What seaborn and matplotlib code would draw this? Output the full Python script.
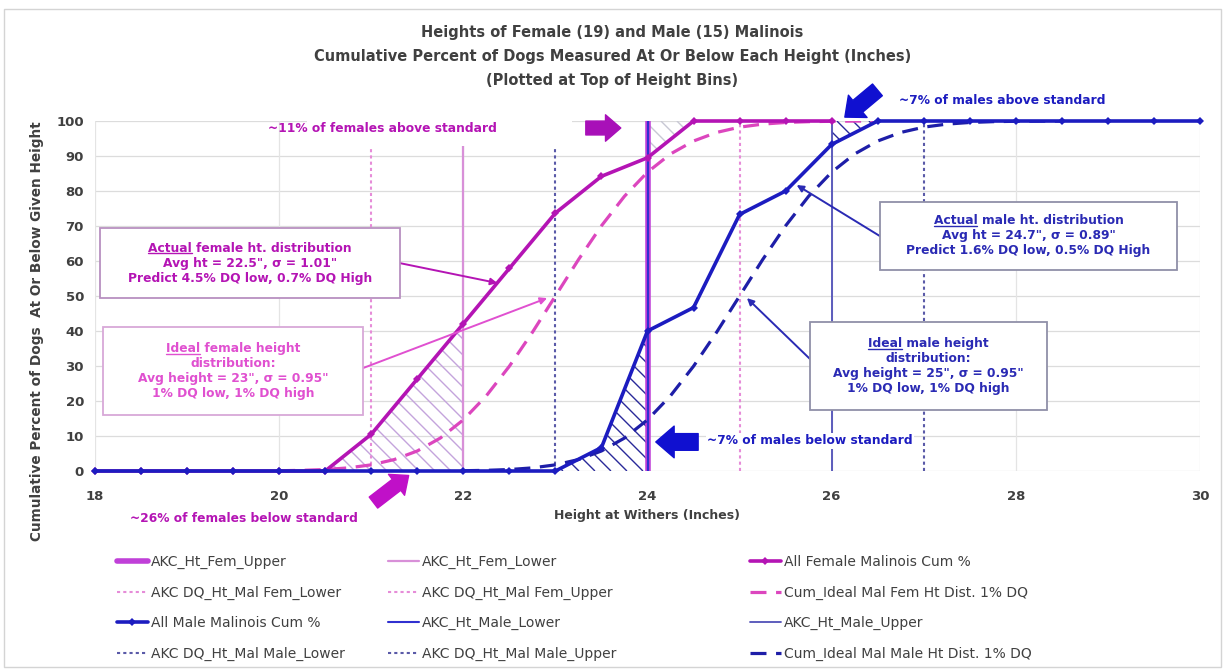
import matplotlib
matplotlib.use("Agg")
import matplotlib.pyplot as plt
from matplotlib.lines import Line2D
from matplotlib.patches import Rectangle
from matplotlib.collections import LineCollection
from matplotlib.path import Path
import seaborn as sns

# ---- data -------------------------------------------------------------
heights = [18.0, 18.5, 19.0, 19.5, 20.0, 20.5, 21.0, 21.5, 22.0, 22.5, 23.0,
           23.5, 24.0, 24.5, 25.0, 25.5, 26.0, 26.5, 27.0, 27.5, 28.0, 28.5,
           29.0, 29.5, 30.0]

# cumulative % of the 19 females at or below each height (18 .. 26 in)
female_cum = [0, 0, 0, 0, 0, 0, 10.5, 26.3, 42.1, 57.9, 73.7, 84.2, 89.5,
              100, 100, 100, 100]
# cumulative % of the 15 males at or below each height (18 .. 30 in)
male_cum = [0, 0, 0, 0, 0, 0, 0, 0, 0, 0, 0, 6.7, 40.0, 46.7, 73.3, 80.0,
            93.3, 100, 100, 100, 100, 100, 100, 100, 100]

# ideal distributions (cumulative %), sampled every quarter inch
ideal_fem_x = [20.0, 20.25, 20.5, 20.75, 21.0, 21.25, 21.5, 21.75, 22.0, 22.25,
               22.5, 22.75, 23.0, 23.25, 23.5, 23.75, 24.0, 24.25, 24.5, 24.75,
               25.0, 25.25, 25.5, 25.75, 26.0, 26.25, 26.5]
ideal_fem_pct = [0.08, 0.19, 0.42, 0.89, 1.76, 3.27, 5.72, 9.41, 14.62, 21.50,
                 29.94, 39.62, 50.0, 60.38, 70.06, 78.50, 85.38, 90.59, 94.28,
                 96.73, 98.24, 99.11, 99.58, 99.81, 99.92, 99.97, 99.99]
ideal_male_x = [22.0, 22.25, 22.5, 22.75, 23.0, 23.25, 23.5, 23.75, 24.0, 24.25,
                24.5, 24.75, 25.0, 25.25, 25.5, 25.75, 26.0, 26.25, 26.5, 26.75,
                27.0, 27.25, 27.5, 27.75, 28.0, 28.25, 28.5]
ideal_male_pct = [0.08, 0.19, 0.42, 0.89, 1.76, 3.27, 5.72, 9.41, 14.62, 21.50,
                  29.94, 39.62, 50.0, 60.38, 70.06, 78.50, 85.38, 90.59, 94.28,
                  96.73, 98.24, 99.11, 99.58, 99.81, 99.92, 99.97, 99.99]

# AKC standard limits (inches)
fem_lower, fem_upper = 22, 24
fem_dq_lower, fem_dq_upper = 21, 25
male_lower, male_upper = 24, 26
male_dq_lower, male_dq_upper = 23, 27

x_ticks = [18, 20, 22, 24, 26, 28, 30]
y_ticks = [0, 10, 20, 30, 40, 50, 60, 70, 80, 90, 100]

# ---- colours ----------------------------------------------------------
C_FEM = "#b414b4"
C_FEM_DASH = "#dc46be"
C_MALE = "#1c1cc0"
C_MALE_DASH = "#1e1ea8"
C_TXT = "#404040"

sns.set_theme(style="white")
plt.rcParams["font.family"] = ["DejaVu Sans"]

fig = plt.figure(figsize=(12.25, 6.7), dpi=100)
AX_W_PX, AX_H_PX = 1105, 350
ax = fig.add_axes([95 / 1225, 1 - 471 / 670, AX_W_PX / 1225, AX_H_PX / 670])
ax.set_xlim(18, 30)
ax.set_ylim(0, 100)

# grid
for yv in y_ticks:
    ax.axhline(yv, color="#dcdcdc", lw=0.9, zorder=0)
for xv in x_ticks:
    ax.axvline(xv, color="#e4e4e4", lw=0.9, zorder=0)

# ---- standard limit lines ---------------------------------------------
h = {}
h["fem_up"] = ax.axvline(fem_upper, color="#c040d8", lw=4.0, zorder=2)
h["fem_lo"] = ax.axvline(fem_lower, color="#d890d8", lw=1.6, zorder=2)
h["fem_dq_lo"] = ax.axvline(fem_dq_lower, color="#e68cd8", lw=1.5,
                            ls=(0, (1.5, 1.5)), zorder=2)
h["fem_dq_up"] = ax.axvline(fem_dq_upper, color="#e68cd8", lw=1.5,
                            ls=(0, (1.5, 1.5)), zorder=2)
h["male_lo"] = ax.axvline(male_lower, color="#3030d0", lw=1.5, zorder=3)
h["male_up"] = ax.axvline(male_upper, color="#5050b8", lw=1.3, zorder=2)
h["male_dq_lo"] = ax.axvline(male_dq_lower, color="#5a5aa8", lw=1.5,
                             ls=(0, (1.5, 1.5)), zorder=2)
h["male_dq_up"] = ax.axvline(male_dq_upper, color="#5a5aa8", lw=1.5,
                             ls=(0, (1.5, 1.5)), zorder=2)


# ---- hatched regions outside the standard -----------------------------
def hatch_region(poly, color, step_px=16):
    """Fill a region with back-slanted 45-degree lines clipped to its outline."""
    px_per_in = AX_W_PX / 12
    px_per_pct = AX_H_PX / 100
    span = 100 * px_per_pct / px_per_in          # inches run while dropping 100 %
    step = step_px / px_per_in
    segs, x = [], 17.0 - span
    while x < 31:
        segs.append([(x, 100), (x + span, 0)])
        x += step
    lc = LineCollection(segs, colors=color, linewidths=1.0, zorder=1)
    ax.add_collection(lc)
    lc.set_clip_path(Path.make_compound_path(*poly.get_paths()), ax.transData)


fx = heights[:len(female_cum)]
regions = [
    (fx, female_cum, 0, [20.5 <= v <= fem_lower for v in fx], "#c4a4dc"),
    (fx, female_cum, 100, [fem_upper <= v <= 24.5 for v in fx], "#c8c8d4"),
    (heights, male_cum, 0, [male_dq_lower <= v <= male_lower for v in heights], "#2a2a9a"),
    (heights, male_cum, 100, [male_upper <= v <= 26.5 for v in heights], "#2a2a9a"),
]
for xs, ys, base, mask, col in regions:
    poly = ax.fill_between(xs, ys, base, where=mask, facecolor="none",
                           edgecolor="none", lw=0)
    hatch_region(poly, col)

# ---- distributions ----------------------------------------------------
sns.lineplot(x=ideal_fem_x, y=ideal_fem_pct, ax=ax, color=C_FEM_DASH, lw=2.3,
             linestyle=(0, (5, 3)), zorder=4)
h["ideal_fem"] = ax.lines[-1]
sns.lineplot(x=fx, y=female_cum, ax=ax, color=C_FEM, lw=2.6, marker="D",
             markersize=4, markeredgewidth=0, zorder=5, clip_on=False)
h["fem"] = ax.lines[-1]
sns.lineplot(x=ideal_male_x, y=ideal_male_pct, ax=ax, color=C_MALE_DASH, lw=2.3,
             linestyle=(0, (5, 3)), zorder=4)
h["ideal_male"] = ax.lines[-1]
sns.lineplot(x=heights, y=male_cum, ax=ax, color=C_MALE, lw=2.6, marker="D",
             markersize=4, markeredgewidth=0, zorder=6, clip_on=False)
h["male"] = ax.lines[-1]

# ---- axes styling -----------------------------------------------------
for s in ax.spines.values():
    s.set_visible(False)
ax.set_xticks(x_ticks)
ax.set_yticks(y_ticks)
ax.tick_params(length=0, labelsize=9.5, labelcolor=C_TXT, pad=14)
ax.tick_params(axis="y", pad=8)
for lab in ax.get_xticklabels() + ax.get_yticklabels():
    lab.set_fontweight("bold")
ax.set_xlabel("Height at Withers (Inches)", fontsize=9, fontweight="bold",
              color=C_TXT, labelpad=4)
ax.set_ylabel("Cumulative Percent of Dogs  At Or Below Given Height", fontsize=9.8,
              fontweight="bold", color=C_TXT)
ax.yaxis.set_label_coords(-0.046, 0.40)

# ---- title ------------------------------------------------------------
title_lines = ["Heights of Female (19) and Male (15) Malinois",
               "Cumulative Percent of Dogs Measured At Or Below Each Height (Inches)",
               "(Plotted at Top of Height Bins)"]
for txt, ypx in zip(title_lines, [33, 57, 80]):
    fig.text(0.5, 1 - ypx / 670, txt, ha="center", va="center", fontsize=10.5,
             fontweight="bold", color=C_TXT)

# ---- callouts ---------------------------------------------------------
# white text box behind the "above standard" note
ax.add_patch(Rectangle((20.3, 93.0), 2.88, 8.5, facecolor="white",
                       edgecolor="none", zorder=6.5, clip_on=False))
ax.text(21.12, 98, "~11% of females above standard", ha="center", va="center",
        fontsize=8.8, fontweight="bold", color=C_FEM, zorder=7)
ax.text(19.62, -13.7, "~26% of females below standard", ha="center", va="center",
        fontsize=8.8, fontweight="bold", color=C_FEM)
ax.text(27.85, 106, "~7% of males above standard", ha="center", va="center",
        fontsize=8.8, fontweight="bold", color=C_MALE)
ax.text(24.65, 8.6, "~7% of males below standard", ha="left", va="center",
        fontsize=8.8, fontweight="bold", color=C_MALE, zorder=7,
        bbox=dict(boxstyle="square,pad=0.1", fc="white", ec="none"))

block = "simple,head_length=0.55,head_width=0.95,tail_width=0.5"
ax.annotate("", xy=(23.74, 98), xytext=(23.30, 98), annotation_clip=False,
            arrowprops=dict(arrowstyle=block, color="#a810b8", mutation_scale=20), zorder=8)
ax.annotate("", xy=(21.43, -0.8), xytext=(21.0, -9.5), annotation_clip=False,
            arrowprops=dict(arrowstyle=block, color="#c010c8", mutation_scale=20), zorder=8)
ax.annotate("", xy=(24.06, 8.3), xytext=(24.58, 8.3), annotation_clip=False,
            arrowprops=dict(arrowstyle=block, color="#1010d0", mutation_scale=24), zorder=8)
ax.annotate("", xy=(26.12, 100.6), xytext=(26.52, 109.4), annotation_clip=False,
            arrowprops=dict(arrowstyle=block, color="#1010d0", mutation_scale=22), zorder=8)

# ---- description boxes ------------------------------------------------
# (x0, x1, y0, y1) box extents, text, text colour, border colour,
# underlined word, connector tail, connector tip
boxes = [
    ((18.054, 21.31, 49.4, 69.4),
     "Actual female ht. distribution\nAvg ht = 22.5\", \u03c3 = 1.01\"\n"
     "Predict 4.5% DQ low, 0.7% DQ High", C_FEM, "#b890c0", "Actual",
     (21.31, 59.4), (22.37, 53.7)),
    ((18.087, 20.91, 16.0, 41.1),
     "Ideal female height\ndistribution:\nAvg height = 23\", \u03c3 = 0.95\"\n"
     "1% DQ low, 1% DQ high", "#e050d0", "#d8a8d8", "Ideal",
     (20.91, 29.4), (22.91, 49.4)),
    ((26.525, 29.75, 57.4, 76.9),
     "Actual male ht. distribution\nAvg ht = 24.7\", \u03c3 = 0.89\"\n"
     "Predict 1.6% DQ low, 0.5% DQ High", "#2a2ab4", "#9090a8", "Actual",
     (26.525, 67.1), (25.62, 81.7)),
    ((25.765, 28.34, 17.4, 42.6),
     "Ideal male height\ndistribution:\nAvg height = 25\", \u03c3 = 0.95\"\n"
     "1% DQ low, 1% DQ high", "#2a2ab4", "#9090a8", "Ideal",
     (25.80, 31.1), (25.08, 49.4)),
]
box_texts = []
for (x0, x1, y0, y1), txt, tc, ec, word, tail, tip in boxes:
    ax.annotate("", xy=tip, xytext=tail, zorder=7,
                arrowprops=dict(arrowstyle="-|>", color=tc, lw=1.4,
                                mutation_scale=10, shrinkA=0, shrinkB=0))
    ax.add_patch(Rectangle((x0, y0), x1 - x0, y1 - y0, facecolor="white",
                           edgecolor=ec, lw=1.3, zorder=8.5))
    t = ax.text((x0 + x1) / 2, (y0 + y1) / 2, txt, ha="center", va="center",
                fontsize=8.8, fontweight="bold", color=tc, linespacing=1.2,
                zorder=9)
    box_texts.append((t, word, tc))

# ---- legend (three columns) -------------------------------------------
legend_cols = [
    [("fem_up", "AKC_Ht_Fem_Upper"), ("fem_dq_lo", "AKC DQ_Ht_Mal Fem_Lower"),
     ("male", "All Male Malinois Cum %"), ("male_dq_lo", "AKC DQ_Ht_Mal Male_Lower")],
    [("fem_lo", "AKC_Ht_Fem_Lower"), ("fem_dq_up", "AKC DQ_Ht_Mal Fem_Upper"),
     ("male_lo", "AKC_Ht_Male_Lower"), ("male_dq_up", "AKC DQ_Ht_Mal Male_Upper")],
    [("fem", "All Female Malinois Cum %"), ("ideal_fem", "Cum_Ideal Mal Fem Ht Dist. 1% DQ"),
     ("male_up", "AKC_Ht_Male_Upper"), ("ideal_male", "Cum_Ideal Mal Male Ht Dist. 1% DQ")],
]
for xpx, col in zip([117, 388, 750], legend_cols):
    leg = fig.legend([h[k] for k, _ in col], [lab for _, lab in col],
                     loc="upper left", bbox_to_anchor=(xpx / 1225, 1 - 555 / 670),
                     frameon=False, fontsize=10, handlelength=2.2, handletextpad=0.25,
                     labelspacing=1.18, borderpad=0, borderaxespad=0)
    for t in leg.get_texts():
        t.set_color(C_TXT)

# chart-area border
fig.add_artist(Rectangle((4 / 1225, 3 / 670), 1217 / 1225, 658 / 670,
                         transform=fig.transFigure, fill=False,
                         edgecolor="#d4d4d4", lw=1.0))

# underline the first word of each description box
fig.canvas.draw()
rend = fig.canvas.get_renderer()
W, H = fig.bbox.width, fig.bbox.height
for t, word, tc in box_texts:
    bb = t.get_window_extent(renderer=rend)
    fp = t.get_fontproperties()
    first = t.get_text().split("\n")[0]
    w_line, _, _ = rend.get_text_width_height_descent(first, fp, ismath=False)
    w_word, _, _ = rend.get_text_width_height_descent(word, fp, ismath=False)
    _, h_lp, d_lp = rend.get_text_width_height_descent("lp", fp, ismath=False)
    x0 = (bb.x0 + bb.x1) / 2 - w_line / 2
    y_u = bb.y1 - (h_lp - d_lp) - 1.8
    fig.add_artist(Line2D([x0 / W, (x0 + w_word) / W], [y_u / H, y_u / H],
                          transform=fig.transFigure, color=tc, lw=1.0, zorder=10))

fig.savefig("out.png", dpi=100)
